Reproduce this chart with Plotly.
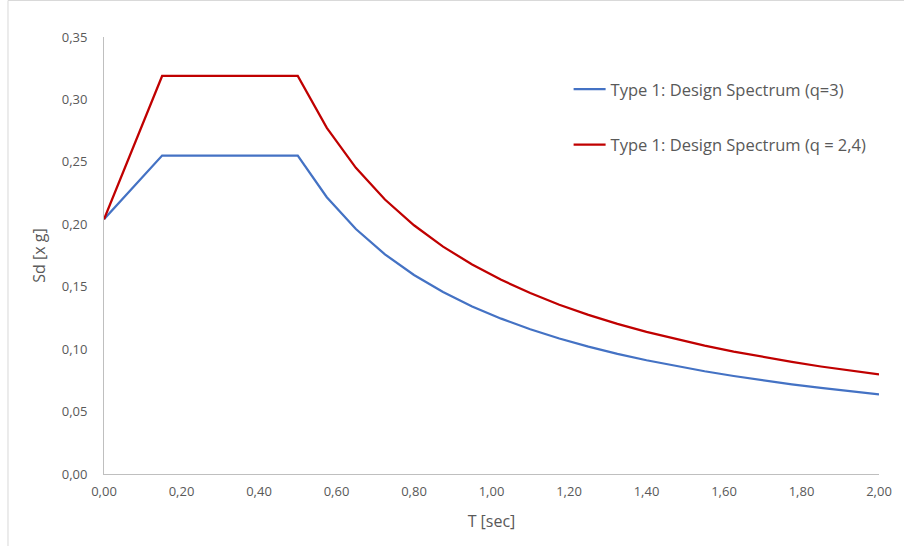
import plotly.graph_objects as go

# Period T [sec]
period = [0.0, 0.15, 0.5, 0.575, 0.65, 0.725, 0.8, 0.875, 0.95, 1.025, 1.1,
          1.175, 1.25, 1.325, 1.4, 1.475, 1.55, 1.625, 1.7, 1.775, 1.85,
          1.925, 2.0]

# Design spectral acceleration Sd [x g]
sd_q3 = [0.204, 0.255, 0.255, 0.2217, 0.1962, 0.1759, 0.1594, 0.1457, 0.1342,
         0.1244, 0.1159, 0.1085, 0.1020, 0.0962, 0.0911, 0.0864, 0.0823,
         0.0785, 0.0750, 0.0718, 0.0689, 0.0662, 0.0638]
sd_q24 = [0.204, 0.3188, 0.3188, 0.2772, 0.2452, 0.2198, 0.1992, 0.1821,
          0.1678, 0.1555, 0.1449, 0.1356, 0.1275, 0.1203, 0.1138, 0.1081,
          0.1028, 0.0981, 0.0938, 0.0898, 0.0861, 0.0828, 0.0797]

x_ticks = [0.0, 0.2, 0.4, 0.6, 0.8, 1.0, 1.2, 1.4, 1.6, 1.8, 2.0]
y_ticks = [0.0, 0.05, 0.10, 0.15, 0.20, 0.25, 0.30, 0.35]

FONT = "Open Sans"
GREY = "#595959"

fig = go.Figure()
fig.add_trace(go.Scatter(x=period, y=sd_q3, mode="lines",
                         name="Type 1: Design Spectrum (q=3)",
                         legendgroup="a",
                         line=dict(color="#4472C4", width=2.25)))
fig.add_trace(go.Scatter(x=period, y=sd_q24, mode="lines",
                         name="Type 1: Design Spectrum (q = 2,4)",
                         legendgroup="b",
                         line=dict(color="#C00000", width=2.25)))

W, H = 904, 546
L, R, T, B = 104, 21, 37, 72
pw, ph = W - L - R, H - T - B

def px_x(p):
    return (p - L) / pw

def px_y(p):
    return (H - B - p) / ph

fig.update_layout(
    width=W, height=H,
    margin=dict(l=L, r=R, t=T, b=B, pad=0),
    paper_bgcolor="white", plot_bgcolor="white",
    separators=",.",
    font=dict(family=FONT, color=GREY, size=13),
    showlegend=True,
    legend=dict(x=px_x(571), y=px_y(72), xanchor="left", yanchor="top",
                font=dict(family=FONT, size=16.5, color=GREY),
                tracegroupgap=31, traceorder="grouped",
                itemwidth=32, bgcolor="rgba(0,0,0,0)"),
    xaxis=dict(range=[0, 2], tickvals=x_ticks, tickformat=".2f",
               showgrid=False, zeroline=False, showline=True,
               linecolor="#BFBFBF", linewidth=1, ticks="",
               ticklabelstandoff=5,
               tickfont=dict(size=13, color=GREY),
               title=dict(text="T [sec]", standoff=17,
                          font=dict(size=16, color=GREY))),
    yaxis=dict(range=[0, 0.35], tickvals=y_ticks, tickformat=".2f",
               showgrid=False, zeroline=False, showline=True,
               linecolor="#BFBFBF", linewidth=1, ticks="",
               ticklabelstandoff=13,
               tickfont=dict(size=13, color=GREY),
               title=dict(text="Sd [x g]", standoff=12,
                          font=dict(size=16, color=GREY))),
)

# Chart frame
fig.add_shape(type="rect", xref="paper", yref="paper",
              x0=px_x(7.5), x1=px_x(W + 5), y0=px_y(H + 5), y1=px_y(0.5),
              line=dict(color="#D9D9D9", width=1), fillcolor="rgba(0,0,0,0)",
              layer="below")

fig.write_html("out.html")
